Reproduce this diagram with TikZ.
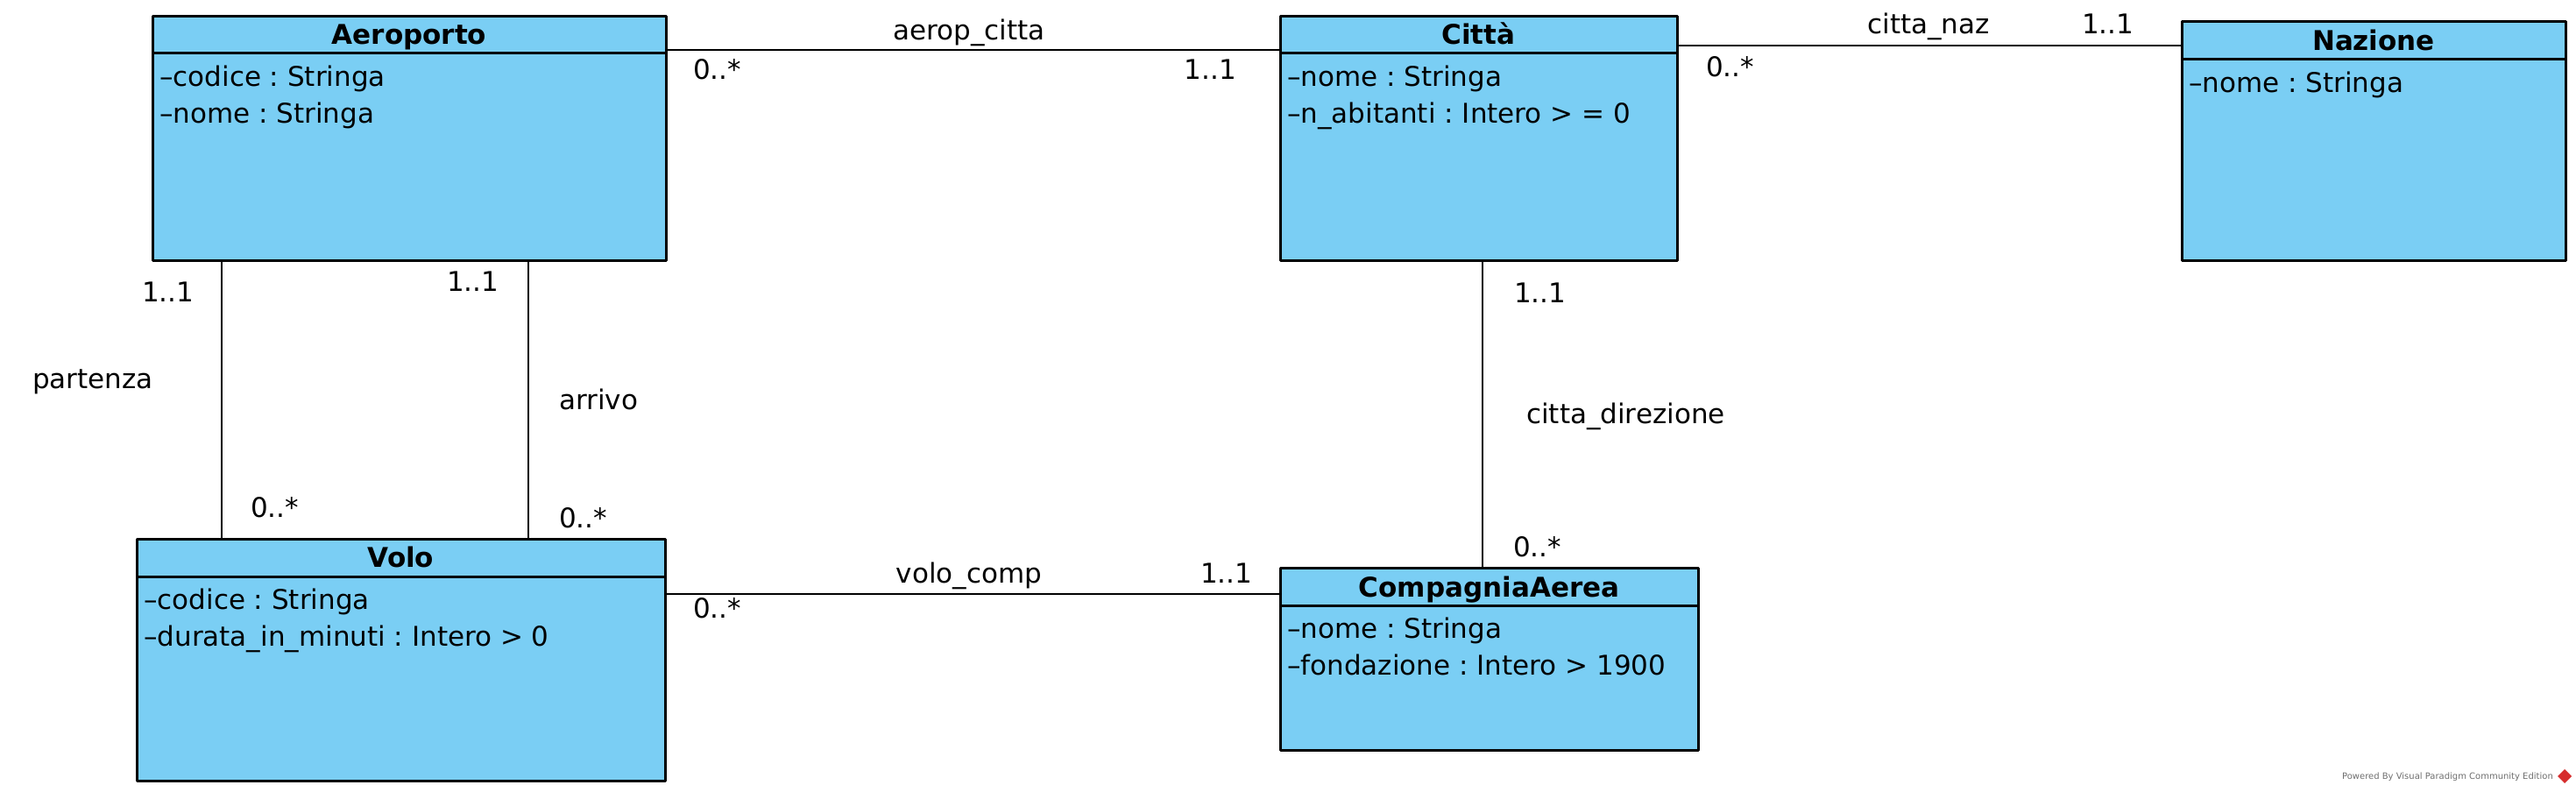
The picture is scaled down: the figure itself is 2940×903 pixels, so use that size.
\documentclass[tikz,border=0pt]{standalone}
\usepackage{fontspec}
\setmainfont{DejaVu Sans}
\frenchspacing
\definecolor{vpblu}{RGB}{122,206,244}
\definecolor{vpgrigio}{RGB}{110,110,110}
\definecolor{vprosso}{RGB}{214,45,45}
\tikzset{
	classe/.style={draw, line width=3pt, fill=vpblu, inner sep=0pt, outer sep=0pt, anchor=north west},
	titolo/.style={font=\fontsize{31}{42}\selectfont\bfseries, anchor=base, inner sep=0pt},
	attributo/.style={font=\fontsize{31}{42}\selectfont, anchor=base west, inner sep=0pt},
	etichetta/.style={font=\fontsize{31}{42}\selectfont, anchor=base west, inner sep=0pt},
	assoc/.style={line width=2.8pt},
	separa/.style={line width=3pt}
}
\begin{document}
\begin{tikzpicture}[x=1pt, y=-1pt, line join=round]
	\useasboundingbox (0,0) rectangle (2940,903);
	% classi
	\node[classe, minimum width=586pt, minimum height=279pt] (aeroporto) at (174,18) {};
	\node[classe, minimum width=453pt, minimum height=279pt] (citta) at (1461,18) {};
	\node[classe, minimum width=438pt, minimum height=273pt] (nazione) at (2490,24) {};
	\node[classe, minimum width=603pt, minimum height=276pt] (volo) at (156,615) {};
	\node[classe, minimum width=477pt, minimum height=208pt] (compagnia) at (1461,648) {};
	\draw[separa] ([yshift=-42pt]aeroporto.north west) -- ([yshift=-42pt]aeroporto.north east);
	\draw[separa] ([yshift=-42pt]citta.north west) -- ([yshift=-42pt]citta.north east);
	\draw[separa] ([yshift=-43pt]nazione.north west) -- ([yshift=-43pt]nazione.north east);
	\draw[separa] ([yshift=-43pt]volo.north west) -- ([yshift=-43pt]volo.north east);
	\draw[separa] ([yshift=-43pt]compagnia.north west) -- ([yshift=-43pt]compagnia.north east);
	\node[titolo] (tAeroporto) at ([yshift=-32pt]aeroporto.north) {Aeroporto};
	\node[titolo] (tCitta) at ([yshift=-32pt]citta.north) {Città};
	\node[titolo] (tNazione) at ([yshift=-33pt]nazione.north) {Nazione};
	\node[titolo] (tVolo) at ([yshift=-32pt]volo.north) {Volo};
	\node[titolo] (tCompagnia) at ([yshift=-33pt]compagnia.north) {CompagniaAerea};
	\node[attributo] (aAero1) at ([xshift=8pt, yshift=-80pt]aeroporto.north west) {–codice : Stringa};
	\node[attributo] (aAero2) at ([xshift=8pt, yshift=-122pt]aeroporto.north west) {–nome : Stringa};
	\node[attributo] (aCitta1) at ([xshift=8pt, yshift=-80pt]citta.north west) {–nome : Stringa};
	\node[attributo] (aCitta2) at ([xshift=8pt, yshift=-122pt]citta.north west) {–n\_abitanti : Intero > = 0};
	\node[attributo] (aNaz1) at ([xshift=8pt, yshift=-81pt]nazione.north west) {–nome : Stringa};
	\node[attributo] (aVolo1) at ([xshift=8pt, yshift=-80pt]volo.north west) {–codice : Stringa};
	\node[attributo] (aVolo2) at ([xshift=8pt, yshift=-122pt]volo.north west) {–durata\_in\_minuti : Intero > 0};
	\node[attributo] (aComp1) at ([xshift=8pt, yshift=-80pt]compagnia.north west) {–nome : Stringa};
	\node[attributo] (aComp2) at ([xshift=8pt, yshift=-122pt]compagnia.north west) {–fondazione : Intero > 1900};
	% associazioni
	\draw[assoc] (aeroporto.east |- 0,57) -- (citta.west |- 0,57);
	\draw[assoc] (citta.east |- 0,52) -- (nazione.west |- 0,52);
	\draw[assoc] (aeroporto.south -| 253,0) -- (volo.north -| 253,0);
	\draw[assoc] (aeroporto.south -| 603,0) -- (volo.north -| 603,0);
	\draw[assoc] (citta.south -| 1692,0) -- (compagnia.north -| 1692,0);
	\draw[assoc] (volo.east |- 0,678) -- (compagnia.west |- 0,678);
	\node[etichetta, anchor=base] (nAeropCitta) at (1106,45) {aerop\_citta};
	\node[etichetta] (mAeropCitta1) at (791,90) {0..*};
	\node[etichetta, anchor=base east] (mAeropCitta2) at (1411,90) {1..1};
	\node[etichetta, anchor=base] (nCittaNaz) at (2201,38) {citta\_naz};
	\node[etichetta] (mCittaNaz1) at (1947,87) {0..*};
	\node[etichetta] (mCittaNaz2) at (2376,38) {1..1};
	\node[etichetta] (nPartenza) at (37,443) {partenza};
	\node[etichetta] (mPartenza1) at (162,344) {1..1};
	\node[etichetta] (mPartenza2) at (286,590) {0..*};
	\node[etichetta] (nArrivo) at (638,467) {arrivo};
	\node[etichetta] (mArrivo1) at (510,332) {1..1};
	\node[etichetta] (mArrivo2) at (638,602) {0..*};
	\node[etichetta] (nDirezione) at (1742,483) {citta\_direzione};
	\node[etichetta] (mDirezione1) at (1728,345) {1..1};
	\node[etichetta] (mDirezione2) at (1727,635) {0..*};
	\node[etichetta, anchor=base] (nVoloComp) at (1106,665) {volo\_comp};
	\node[etichetta] (mVoloComp1) at (1370,665) {1..1};
	\node[etichetta] (mVoloComp2) at (791,705) {0..*};
	% firma
	\node[anchor=base east, inner sep=0pt, text=vpgrigio, font=\fontsize{10}{12}\selectfont] (firma) at (2914,889) {Powered By Visual Paradigm Community Edition};
	\fill[vprosso] (2927,878) -- (2935,886) -- (2927,894) -- (2919,886) -- cycle;
\end{tikzpicture}
\end{document}
